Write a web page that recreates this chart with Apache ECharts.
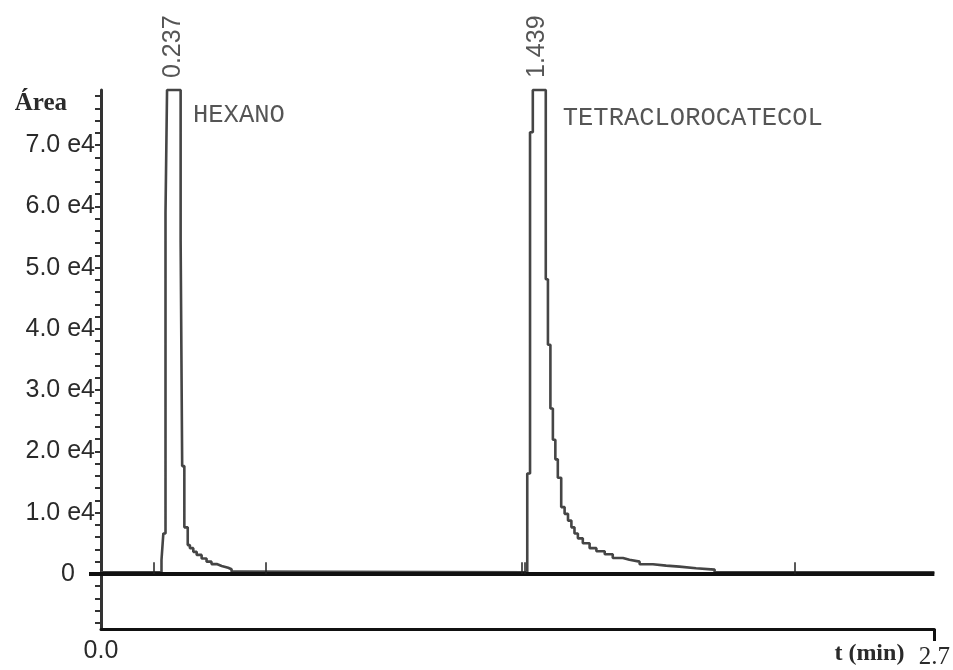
<!DOCTYPE html>
<html>
<head>
<meta charset="utf-8">
<script src="https://cdn.jsdelivr.net/npm/echarts@6/dist/echarts.min.js"></script>
<style>html,body{margin:0;padding:0;background:#fff}#c{width:953px;height:670px}</style>
</head>
<body>
<div id="c"></div>
<script>
// Chromatogram signal (step trace): retention time (min) and area counts
const time = [0, 0.196, 0.202, 0.209, 0.214, 0.258, 0.263, 0.270, 0.281, 0.288, 0.299, 0.310, 0.326, 0.342, 0.358, 0.375, 0.391, 0.412, 0.423, 0.445,
  1.381, 1.390, 1.399, 1.441, 1.448, 1.456, 1.464, 1.472, 1.480, 1.491, 1.502, 1.513, 1.524, 1.534, 1.545, 1.561, 1.583, 1.605, 1.632, 1.658, 1.691, 1.712, 1.745, 1.788, 1.831, 1.874, 1.928, 1.988, 2.7];
const area = [250, 2260, 6600, 59000, 79000, 54400, 17600, 7600, 4700, 4200, 3600, 3100, 2500, 2000, 1600, 1300, 1000, 750, 400, 250,
  16400, 72100, 79000, 48100, 37400, 27000, 21900, 18700, 15700, 10900, 9800, 8700, 7600, 6600, 5800, 5000, 4200, 3700, 3200, 2600, 2300, 2000, 1560, 1340, 1180, 920, 700, 250, 250];
// Integration markers (min)
const markerTimes = [0.172, 0.534, 1.364, 1.373, 2.247];
const markerHeight = 1900;
// Peak annotations
const peakRT = ['0.237', '1.439'];
const peakLabelTime = [0.233, 1.412];
const compoundNames = ['HEXANO', 'TETRACLOROCATECOL'];
const compoundTime = [0.298, 1.496];
const compoundArea = [74800, 74400];
// Axes
const yMin = -9000, yMax = 79000;
const yLabelValues = [0, 10000, 20000, 30000, 40000, 50000, 60000, 70000];
const yTickLabels = ['0', '1.0 e4', '2.0 e4', '3.0 e4', '4.0 e4', '5.0 e4', '6.0 e4', '7.0 e4'];
const xMin = 0, xMax = 2.7;
const xLabelValues = [0, 2.7];
const xTickLabels = ['0.0', '2.7'];

const yTickValues = [];
for (let v = -8000; v <= 78000; v += 2000) yTickValues.push(v);

const sig = time.map((t, i) => [t, area[i]]);
const ink = '#2a2a2a';

const chart = echarts.init(document.getElementById('c'), null, {renderer: 'canvas'});
chart.setOption({
  backgroundColor: '#ffffff',
  animation: false,
  grid: {left: 101, right: 18, top: 90, bottom: 35},
  xAxis: [{
    type: 'value', min: xMin, max: xMax, position: 'bottom',
    axisLine: {onZero: false, lineStyle: {color: '#111', width: 3}},
    axisTick: {customValues: [xMax], length: 12, lineStyle: {color: '#111', width: 3}},
    axisLabel: {
      customValues: xLabelValues, margin: 10,
      formatter: v => (v === 0 ? '{a|' + xTickLabels[0] + '}' : '{b|' + xTickLabels[1] + '}'),
      rich: {
        a: {fontFamily: 'Liberation Sans', fontSize: 25, color: ink},
        b: {fontFamily: 'Liberation Serif', fontSize: 25, color: ink, padding: [6, 0, 0, 0]}
      }
    },
    splitLine: {show: false},
    name: 't (min)', nameLocation: 'end', nameGap: -30,
    nameTextStyle: {fontFamily: 'Liberation Serif', fontWeight: 'bold', fontSize: 24, color: ink, align: 'right', verticalAlign: 'top', padding: [13, 0, 0, 0]}
  }],
  yAxis: [{
    type: 'value', min: yMin, max: yMax,
    axisLine: {show: true, onZero: false, lineStyle: {color: '#333', width: 3}},
    axisTick: {show: true, customValues: yTickValues, length: 6, inside: false, lineStyle: {color: '#333', width: 2}},
    axisLabel: {
      customValues: yLabelValues, margin: 6,
      formatter: v => {
        const i = yLabelValues.indexOf(v);
        return i === 0 ? '{z|' + yTickLabels[0] + '}' : yTickLabels[i];
      },
      fontFamily: 'Liberation Sans', fontSize: 25, color: ink,
      rich: {z: {fontFamily: 'Liberation Sans', fontSize: 25, color: ink, padding: [0, 20, 0, 0]}}
    },
    splitLine: {show: false},
    name: 'Área', nameLocation: 'end', nameGap: -14,
    nameTextStyle: {fontFamily: 'Liberation Serif', fontWeight: 'bold', fontSize: 25, color: ink, align: 'right', verticalAlign: 'middle', padding: [0, 34, 0, 0]}
  }, {
    type: 'value', min: yMin, max: yMax, position: 'left',
    axisLine: {show: false},
    axisTick: {show: true, customValues: [0], length: 12, lineStyle: {color: '#111', width: 4}},
    axisLabel: {show: false},
    splitLine: {show: false}
  }],
  series: [{
    type: 'line', step: 'end', data: sig, showSymbol: false, symbol: 'none', clip: false,
    lineStyle: {color: '#454545', width: 2.6},
    markLine: {
      silent: true, symbol: ['none', 'none'], label: {show: false},
      data: [
        {yAxis: 0, lineStyle: {color: '#111', width: 4, type: 'solid'}}
      ].concat(markerTimes.map(t => [
        {coord: [t, 0], lineStyle: {color: '#222', width: 1.5, type: 'solid'}},
        {coord: [t, markerHeight]}
      ]))
    },
    z: 3
  }, {
    type: 'scatter', symbolSize: 0, silent: true,
    data: peakLabelTime.map(t => [t, yMax]),
    label: {
      show: true, position: 'top', distance: 12, rotate: 90, align: 'left', verticalAlign: 'middle',
      formatter: p => peakRT[p.dataIndex],
      fontFamily: 'Liberation Sans', fontSize: 25, color: ink
    }
  }, {
    type: 'scatter', symbolSize: 0, silent: true,
    data: compoundTime.map((t, i) => [t, compoundArea[i]]),
    label: {
      show: true, position: 'inside', align: 'left', verticalAlign: 'middle',
      formatter: p => compoundNames[p.dataIndex],
      fontFamily: 'Liberation Mono', fontSize: 25.5, color: ink
    }
  }]
});
</script>
</body>
</html>
